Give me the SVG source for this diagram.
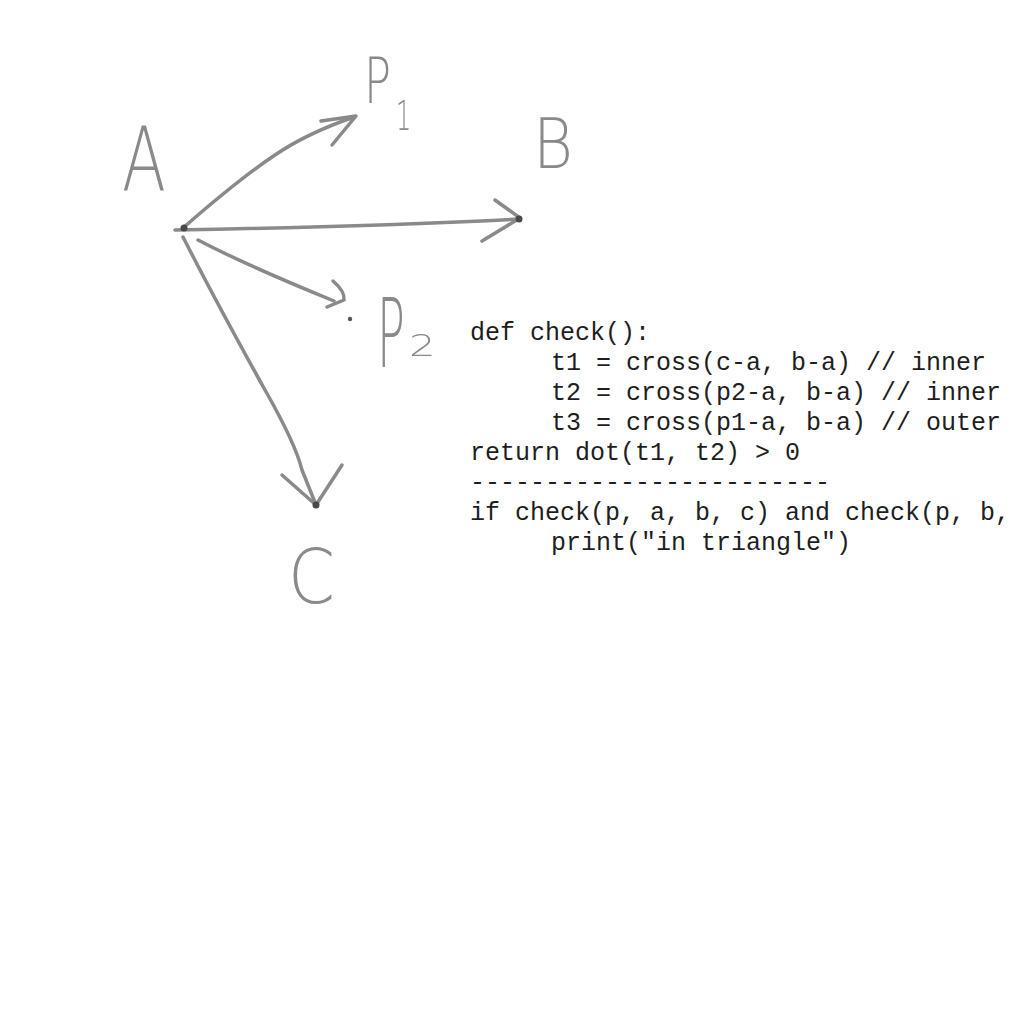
<svg xmlns="http://www.w3.org/2000/svg" width="1024" height="1024" viewBox="0 0 1024 1024">
<style>
.stroke{fill:none;stroke:#8a8a8a;stroke-width:3.5;stroke-linecap:round;stroke-linejoin:round}
.dot{fill:#4a4a4a}
.hand{font-family:"DejaVu Sans","Liberation Sans",sans-serif;font-weight:200;fill:#8a8a8a}
.code{font-family:"Liberation Mono","DejaVu Sans Mono",monospace;font-size:25px;fill:#1e1e1e}
</style>
<defs>
<filter id="soft" x="-5%" y="-5%" width="110%" height="110%"><feGaussianBlur stdDeviation="0.6"/></filter>
</defs>
<rect width="1024" height="1024" fill="#ffffff"/>
<g id="connectors" filter="url(#soft)">
<g id="edge-A-P1">
<path class="stroke" d="M183,228 C215,200 245,175 275,155 C300,138 325,127 354,117"/>
<path class="stroke" d="M321,121 L356,116 L332,145"/>
</g>
<g id="edge-A-B">
<path class="stroke" d="M175,230 C290,228 400,225 520,219"/>
<path class="stroke" d="M495,200 L520,218 L482,241"/>
</g>
<g id="edge-A-P2">
<path class="stroke" d="M198,240 C240,262 290,283 334,301"/>
<path class="stroke" d="M333,281 C340,287 345,293 344,300 L327,307"/>
<circle cx="350" cy="319" r="2.2" fill="#555"/>
</g>
<g id="edge-A-C">
<path class="stroke" d="M183,237 C210,290 240,345 265,390 C285,425 297,450 302,470 L316,505"/>
<path class="stroke" d="M282,475 L316,505 L342,465"/>
</g>
<circle class="dot" cx="184" cy="228" r="3.5"/>
<circle class="dot" cx="519" cy="219" r="3.5"/>
<circle class="dot" cx="316" cy="505" r="3.5"/>
</g>
<g id="node-A" filter="url(#soft)"><text class="hand" x="122" y="190" font-size="89" textLength="44" lengthAdjust="spacingAndGlyphs">A</text></g>
<g id="node-B" filter="url(#soft)"><text class="hand" x="533" y="168" font-size="69" textLength="40" lengthAdjust="spacingAndGlyphs">B</text></g>
<g id="node-C" filter="url(#soft)"><text class="hand" x="288" y="603" font-size="75" textLength="47" lengthAdjust="spacingAndGlyphs">C</text></g>
<g id="node-P1" filter="url(#soft)"><text class="hand" font-size="64" transform="translate(364,103) scale(0.7,1)">P</text><text class="hand" x="396" y="130" font-size="40" transform="translate(396,0) scale(0.6,1) translate(-396,0)">1</text></g>
<g id="node-P2" filter="url(#soft)"><text class="hand" font-size="96" transform="translate(377,367) scale(0.48,1)">P</text><text class="hand" x="409" y="356" font-size="30" transform="translate(409,0) scale(1.4,1) translate(-409,0)">2</text></g>
<g id="code">
<text class="code" x="470" y="340">def check():</text>
<text class="code" x="551" y="370">t1 = cross(c-a, b-a) // inner</text>
<text class="code" x="551" y="400">t2 = cross(p2-a, b-a) // inner</text>
<text class="code" x="551" y="430">t3 = cross(p1-a, b-a) // outer</text>
<text class="code" x="470" y="460">return dot(t1, t2) &gt; 0</text>
<text class="code" x="470" y="490">------------------------</text>
<text class="code" x="470" y="520">if check(p, a, b, c) and check(p, b,</text>
<text class="code" x="551" y="550">print("in triangle")</text>
</g>
</svg>
